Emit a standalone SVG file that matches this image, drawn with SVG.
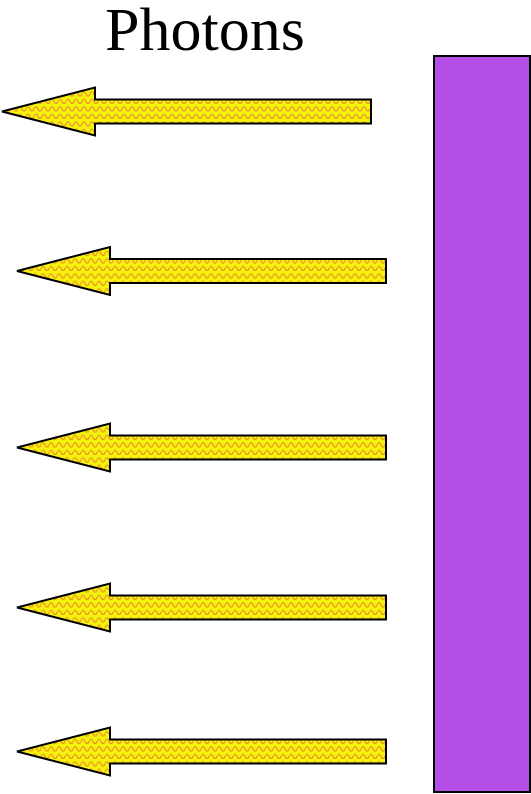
<svg xmlns="http://www.w3.org/2000/svg" width="531" height="794" viewBox="0 0 531 794">
  <style>
    .title { font-family: "Liberation Serif", "Times New Roman", serif; font-size: 62px; fill: #000; }
    .arrow { fill: url(#wave); stroke: #000; stroke-width: 2; stroke-linejoin: miter; }
    .wall { fill: #b54ee6; stroke: #000; stroke-width: 2; }
  </style>
  <defs>
    <pattern id="wave" patternUnits="userSpaceOnUse" width="8" height="7.5">
      <rect width="8" height="7.5" fill="#f4f40a"/>
      <path d="M0,5 Q2,0.5 4,5 T8,5" fill="none" stroke="#f08a34" stroke-width="1.2"/>
    </pattern>
    <path id="arrowShape" d="M0,0 L93,-24 L93,-12 L369,-12 L369,12 L93,12 L93,24 Z"/>
  </defs>
  <g id="title">
    <text class="title" x="205" y="50" text-anchor="middle">Photons</text>
  </g>
  <g id="wall">
    <rect class="wall" x="434" y="56" width="96" height="736"/>
  </g>
  <g id="photon1"><use href="#arrowShape" class="arrow" transform="translate(2,111.5)"/></g>
  <g id="photon2"><use href="#arrowShape" class="arrow" transform="translate(17,271)"/></g>
  <g id="photon3"><use href="#arrowShape" class="arrow" transform="translate(17,447.5)"/></g>
  <g id="photon4"><use href="#arrowShape" class="arrow" transform="translate(17,607.5)"/></g>
  <g id="photon5"><use href="#arrowShape" class="arrow" transform="translate(17,751.5)"/></g>
  <g id="connectors"/>
</svg>
